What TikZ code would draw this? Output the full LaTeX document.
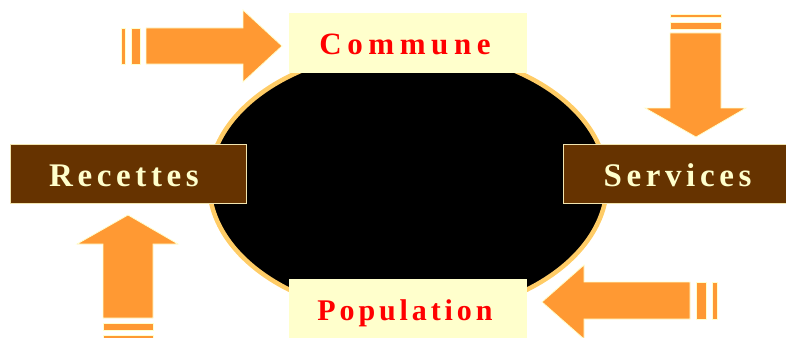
\documentclass[tikz,border=0pt]{standalone}
\usepackage{fontspec}
\setmainfont{Liberation Serif}
\definecolor{arroworange}{HTML}{FF9933}
\definecolor{paleyellow}{HTML}{FFFFCC}
\definecolor{ringorange}{HTML}{FFCC66}
\definecolor{brownbox}{HTML}{663300}
\definecolor{titlered}{HTML}{FF0000}
\tikzset{
  bigarrow/.style={fill=arroworange, draw=paleyellow, line width=0.8pt},
  palebox/.style={fill=paleyellow, draw=none},
  brownrect/.style={fill=brownbox, draw=paleyellow!80!brown, line width=0.8pt},
  redlabel/.style={text=titlered, anchor=base, inner sep=0pt},
  creamlabel/.style={text=paleyellow, font={\fontsize{33}{40}\selectfont\bfseries\addfontfeatures{LetterSpace=14}}, anchor=base, inner sep=0pt},
}
\begin{document}
\begin{tikzpicture}[x=1pt,y=-1pt]
\useasboundingbox (0,0) rectangle (786,337);
% central ellipse
\draw[fill=black, draw=ringorange, line width=4.5pt] (408,183) ellipse [x radius=199, y radius=133];
% boxes
\node[palebox, minimum width=238pt, minimum height=60pt, inner sep=0pt] (commune) at (408,43) {};
\node[palebox, minimum width=238pt, minimum height=62pt, inner sep=0pt] (population) at (408,310) {};
\node[brownrect, minimum width=236pt, minimum height=59pt, inner sep=0pt] (recettes) at (128,173.5) {};
\node[brownrect, minimum width=226pt, minimum height=59pt, inner sep=0pt] (services) at (676,173.5) {};
% labels
\node[redlabel, font={\fontsize{31}{37}\selectfont\bfseries\addfontfeatures{LetterSpace=18}}] (communetext) at (405,55) {Commune};
\node[redlabel, font={\fontsize{30}{36}\selectfont\bfseries\addfontfeatures{LetterSpace=13}}] (populationtext) at (405,320) {Population};
\node[creamlabel] (recettestext) at (124,186) {Recettes};
\node[creamlabel] (servicestext) at (677.5,186) {Services};
% arrow top-left (pointing right)
\draw[bigarrow] (146,28) -- (243,28) -- (243,10) -- (282,46) -- (243,82) -- (243,64) -- (146,64) -- cycle;
\draw[bigarrow] (121,28) rectangle (125,64);
\draw[bigarrow] (131,28) rectangle (140,64);
% arrow top-right (pointing down)
\draw[bigarrow] (670,33) -- (721,33) -- (721,108) -- (746,108) -- (696,137) -- (645,108) -- (670,108) -- cycle;
\draw[bigarrow] (670,14) rectangle (721,17);
\draw[bigarrow] (670,22) rectangle (721,29);
% arrow bottom-left (pointing up)
\draw[bigarrow] (103,318) -- (103,244) -- (77,244) -- (128,215) -- (178,244) -- (153,244) -- (153,318) -- cycle;
\draw[bigarrow] (103,323) rectangle (153,330);
\draw[bigarrow] (103,335) rectangle (153,342);
% arrow bottom-right (pointing left)
\draw[bigarrow] (690,282) -- (584,282) -- (584,265) -- (542,302) -- (584,339) -- (584,319) -- (690,319) -- cycle;
\draw[bigarrow] (696,282) rectangle (706,319);
\draw[bigarrow] (712,282) rectangle (717,319);
\end{tikzpicture}
\end{document}
